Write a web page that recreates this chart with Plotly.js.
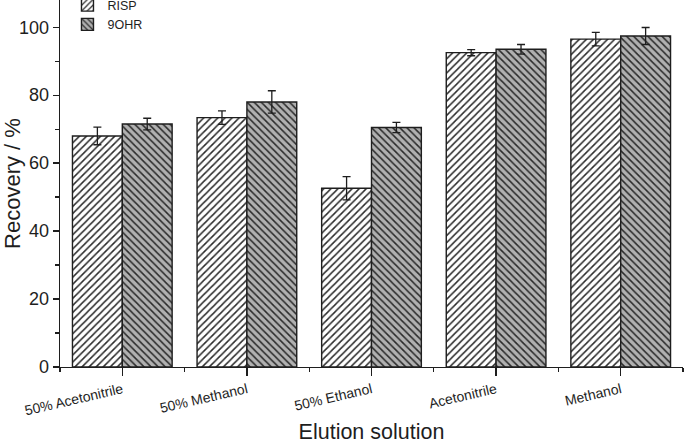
<!DOCTYPE html>
<html>
<head>
<meta charset="utf-8">
<script src="https://cdn.plot.ly/plotly-3.0.1.min.js"></script>
<style>
  html, body { margin: 0; padding: 0; background: #fff; }
  #chart { width: 687px; height: 444px; }
</style>
</head>
<body>
<div id="chart"></div>
<script>
// Elution solvents tested
const categories = ['50% Acetonitrile', '50% Methanol', '50% Ethanol', 'Acetonitrile', 'Methanol'];

// Mean recovery (%) and standard deviation for each analyte
const rispRecovery = [68.0, 73.4, 52.6, 92.5, 96.5];
const rispError    = [2.6, 2.0, 3.4, 0.9, 2.0];
const ohrRecovery  = [71.5, 78.0, 70.5, 93.5, 97.4];
const ohrError     = [1.7, 3.3, 1.5, 1.4, 2.5];

const yTicks = [0, 20, 40, 60, 80, 100];

// bars sit on a numeric axis: one slot per solvent, labelled with its name
const slots = categories.map((_, i) => i);

const FONT = 'Liberation Sans, Arial, Helvetica, sans-serif';
const INK = '#1e1e1e';

const outline = { color: INK, width: 1.4 };
const errStyle = (arr) => ({ type: 'data', array: arr, visible: true, color: INK, thickness: 1.3, width: 4 });

const traces = [
  {
    type: 'bar', name: 'RISP', x: slots, y: rispRecovery,
    error_y: errStyle(rispError),
    marker: {
      color: '#ffffff',
      line: outline,
      pattern: { shape: '/', fgcolor: '#2a2a2a', bgcolor: '#ffffff', size: 5, solidity: 0.3 }
    }
  },
  {
    type: 'bar', name: '9OHR', x: slots, y: ohrRecovery,
    error_y: errStyle(ohrError),
    marker: {
      color: '#b0b0b0',
      line: outline,
      pattern: { shape: '\\', fgcolor: '#2a2a2a', bgcolor: '#b0b0b0', size: 5, solidity: 0.3 }
    }
  }
];

const layout = {
  width: 687, height: 444,
  margin: { l: 60, r: 4, t: 0, b: 77, autoexpand: false },
  paper_bgcolor: '#ffffff', plot_bgcolor: '#ffffff',
  font: { family: FONT, color: INK },
  barmode: 'group', bargap: 0.2, bargroupgap: 0,
  showlegend: true,
  legend: {
    x: 0.012, y: 1.026, xanchor: 'left', yanchor: 'top',
    bgcolor: 'rgba(0,0,0,0)', font: { size: 12.5, family: FONT, color: INK },
    tracegroupgap: 0, itemwidth: 30
  },
  xaxis: {
    range: [-0.5, 4.5], tickmode: 'array', tickvals: slots, ticktext: categories,
    showline: true, linecolor: INK, linewidth: 1.3,
    ticks: 'outside', ticklen: 8, tickwidth: 1.3, tickcolor: INK,
    minor: { tick0: 0.5, dtick: 1, ticks: 'outside', ticklen: 4, tickwidth: 1.3, tickcolor: INK, showgrid: false },
    tickangle: -13, tickfont: { size: 14, family: FONT, color: INK },
    showgrid: false, zeroline: false,
    title: { text: 'Elution solution', font: { size: 21.5, family: FONT, color: INK }, standoff: 13 }
  },
  yaxis: {
    range: [0, 108], tickmode: 'array', tickvals: yTicks,
    showline: true, linecolor: INK, linewidth: 1.3,
    ticks: 'outside', ticklen: 6, tickwidth: 1.3, tickcolor: INK,
    minor: { dtick: 10, ticks: 'outside', ticklen: 3.5, tickwidth: 1.2, tickcolor: INK, showgrid: false },
    tickfont: { size: 18, family: FONT, color: INK },
    showgrid: false, zeroline: false,
    title: { text: 'Recovery / %', font: { size: 22, family: FONT, color: INK }, standoff: 6 }
  }
};

Plotly.newPlot('chart', traces, layout, { displayModeBar: false, staticPlot: true });
</script>
</body>
</html>
